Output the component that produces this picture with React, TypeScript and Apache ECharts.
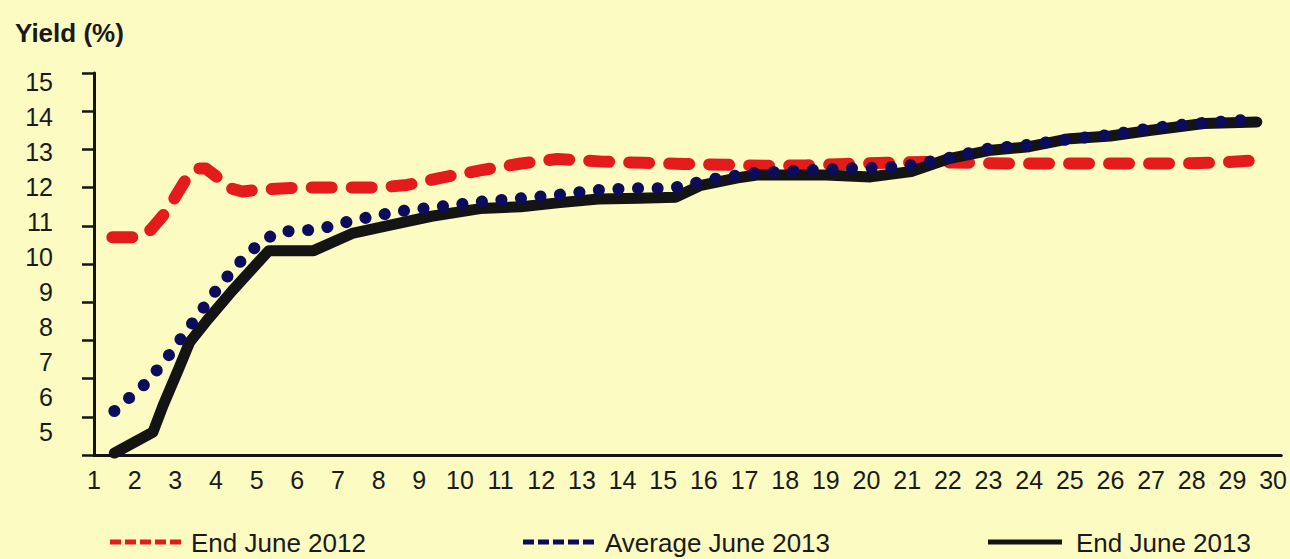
import React, { useEffect, useRef } from "react";
import * as echarts from "echarts";

const xLabels = Array.from({ length: 30 }, (_, i) => i + 1);
const yLabels = [5, 6, 7, 8, 9, 10, 11, 12, 13, 14, 15];

const endJune2012: [number, number][] = [
  [1.45, 10.7], [2.1, 10.7], [2.4, 10.9], [2.8, 11.4], [3.05, 11.85], [3.25, 12.2],
  [3.55, 12.5], [3.75, 12.5], [4.0, 12.3], [4.3, 12.0], [4.65, 11.9], [5.1, 11.95],
  [6, 12.0], [7, 12.0], [8, 12.0], [8.7, 12.07], [9.5, 12.25], [10.5, 12.45],
  [11.5, 12.63], [12.4, 12.75], [13.5, 12.68], [14.5, 12.65], [15.5, 12.62],
  [16.5, 12.6], [17.5, 12.57], [18.5, 12.58], [19.5, 12.62], [20.5, 12.65],
  [21.5, 12.67], [22.5, 12.65], [23.5, 12.63], [24.5, 12.63], [25.5, 12.63],
  [26.5, 12.63], [27.5, 12.63], [28.5, 12.65], [29.4, 12.7],
];

const averageJune2013: [number, number][] = [
  [1.5, 6.15], [2.3, 6.9], [2.8, 7.55], [3.45, 8.5], [4.1, 9.45], [4.8, 10.3],
  [5.3, 10.7], [5.6, 10.85], [6.5, 10.9], [7.4, 11.15], [8.5, 11.38], [9.5, 11.5],
  [10.5, 11.63], [11.5, 11.72], [12.5, 11.82], [13.3, 11.93], [14.2, 11.98],
  [15.2, 11.98], [16.2, 12.22], [17.2, 12.38], [18.5, 12.45], [19.5, 12.5],
  [20.5, 12.53], [21.0, 12.57], [22.0, 12.77], [23.0, 13.02], [24.0, 13.12],
  [25.0, 13.27], [26.0, 13.38], [27.0, 13.56], [28.0, 13.67], [29.3, 13.77],
];

const endJune2013: [number, number][] = [
  [1.5, 5.05], [2.45, 5.6], [2.7, 6.3], [3.1, 7.3], [3.35, 7.95], [3.8, 8.55],
  [4.4, 9.3], [5.3, 10.35], [6.4, 10.35], [7.35, 10.8], [8.2, 11.0], [9.3, 11.25],
  [10.5, 11.45], [11.5, 11.5], [12.4, 11.6], [13.4, 11.7], [14.4, 11.72],
  [15.3, 11.75], [15.9, 12.05], [16.8, 12.25], [17.3, 12.33], [19.0, 12.33],
  [20.1, 12.28], [21.1, 12.42], [22.0, 12.75], [23.0, 12.97], [24.0, 13.07],
  [25.0, 13.28], [26.0, 13.35], [27.0, 13.5], [28.3, 13.68], [29.6, 13.72],
];

const seriesNames = ["End June 2012", "Average June 2013", "End June 2013"];

const RED = "#e31b1b";
const NAVY = "#0c0c5c";
const BLACK = "#141414";
const BG = "#fbfbc2";
const FONT = "'Liberation Sans', Arial, sans-serif";

export default function App() {
  const ref = useRef<HTMLDivElement>(null);

  useEffect(() => {
    if (!ref.current) return;
    const chart = echarts.init(ref.current, undefined, { renderer: "svg" });
    const legendItem = (x1: number, x2: number, color: string, dash: number[] | null, tx: number, text: string) => ({
      type: "group",
      children: [
        {
          type: "line",
          shape: { x1, y1: 542, x2, y2: 542 },
          style: { stroke: color, lineWidth: 5, lineDash: dash || undefined },
        },
        {
          type: "text",
          x: tx,
          y: 543,
          style: {
            text,
            fill: "#1a1a1a",
            font: `26px ${FONT}`,
            verticalAlign: "middle",
            align: "left",
          },
        },
      ],
    });

    chart.setOption({
      animation: false,
      backgroundColor: BG,
      textStyle: { fontFamily: FONT },
      title: {
        text: "Yield (%)",
        left: 10,
        top: 15,
        textStyle: { fontSize: 26, fontWeight: "bold", color: "#1a1a1a", fontFamily: FONT },
      },
      grid: { left: 94, right: 8, top: 73, bottom: 104, containLabel: false },
      xAxis: {
        type: "value",
        min: 1,
        max: 30.2,
        splitLine: { show: false },
        axisTick: { show: false },
        axisLine: { show: true, lineStyle: { color: BLACK, width: 3 } },
        axisLabel: {
          customValues: xLabels,
          fontSize: 25,
          color: "#1a1a1a",
          margin: 12,
          fontFamily: FONT,
        },
      },
      yAxis: [
        {
          type: "value",
          min: 5,
          max: 15,
          interval: 1,
          splitLine: { show: false },
          axisLine: { show: true, lineStyle: { color: BLACK, width: 3 } },
          axisTick: { show: true, inside: false, length: 12, lineStyle: { color: BLACK, width: 2.5 } },
          axisLabel: { show: false },
        },
        {
          type: "value",
          min: 4.343,
          max: 15.257,
          position: "left",
          splitLine: { show: false },
          axisLine: { show: false },
          axisTick: { show: false },
          axisLabel: {
            customValues: yLabels,
            fontSize: 25,
            color: "#1a1a1a",
            margin: 41,
            fontFamily: FONT,
          },
        },
      ],
      series: [
        {
          name: seriesNames[0],
          type: "line",
          data: endJune2012,
          yAxisIndex: 0,
          symbol: "none",
          z: 2,
          lineStyle: { color: RED, width: 12, type: [20, 20], cap: "round", join: "round" },
        },
        {
          name: seriesNames[2],
          type: "line",
          data: endJune2013,
          yAxisIndex: 0,
          symbol: "none",
          z: 3,
          lineStyle: { color: BLACK, width: 11, type: "solid", cap: "round", join: "round" },
        },
        {
          name: seriesNames[1],
          type: "line",
          data: averageJune2013,
          yAxisIndex: 0,
          symbol: "none",
          z: 4,
          lineStyle: { color: NAVY, width: 12, type: [0.1, 19.5], cap: "round", join: "round" },
        },
      ],
      graphic: [
        legendItem(110, 183, RED, [11, 4], 191, seriesNames[0]),
        legendItem(523, 597, NAVY, [11, 4], 605, seriesNames[1]),
        legendItem(988, 1062, BLACK, null, 1076, seriesNames[2]),
      ],
    });
    return () => chart.dispose();
  }, []);

  return <div ref={ref} style={{ width: 1290, height: 559, position: "fixed", left: 0, top: 0 }} />;
}
